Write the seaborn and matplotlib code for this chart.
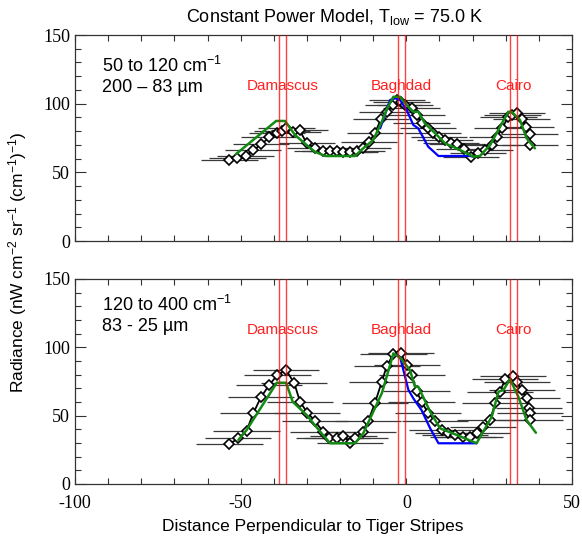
import matplotlib
matplotlib.use('Agg')
import matplotlib.pyplot as plt
import seaborn as sns
from matplotlib.ticker import MultipleLocator

# stripe positions (two red lines per stripe) and labels
stripe_names = ['Damascus', 'Baghdad', 'Cairo']
stripe_label_x = [-37.35, -1.5, 32.3]
stripe_lines = [-38.4, -36.3, -2.6, -0.4, 31.3, 33.3]

# 50 to 120 cm-1 band: measured radiance
x_top = [-53.4, -51.0, -48.5, -46.2, -43.8, -41.3, -39.0, -37.5, -36.2, -34.2, -32.2,
         -30.0, -27.6, -25.3, -23.0, -21.0, -19.0, -17.0, -15.0, -13.0, -11.3, -9.5,
         -7.6, -5.8, -3.9, -2.8, -1.5, -0.5, 1.6, 3.1, 4.6, 6.6, 8.1, 9.8, 11.7, 13.4,
         15.3, 17.5, 19.6, 21.7, 23.7, 25.8, 27.4, 28.9, 30.8, 32.0, 33.3, 34.8, 36.2,
         37.2, 37.3]
y_top = [59, 60.5, 62, 66, 70.5, 75.5, 78.5, 80, 82, 79.5, 80.5,
         71, 67.5, 65.5, 65.5, 65.5, 65, 65, 65.5, 67.5, 72, 78.5,
         89, 94, 99, 103, 101, 99, 96.5, 91.5, 86, 82, 78.5, 75.5, 73.5, 71,
         70.5, 67, 61, 64, 66.5, 70, 76, 82, 90.5, 92, 93.5, 89, 83,
         78, 70]
xerr_top = 8.5

# model curves, top band
green_x_top = [-51.4, -39.3, -36.6, -33.6, -30.1, -27.6, -24.5, -15.5, -13.0, -10.0, -7.4,
               -5.9, -3.9, -1.9, 0.1, 2.1, 3.6, 5.6, 8.7, 11.7, 16.2, 20.2, 22.2, 25.3,
               28.3, 30.8, 31.8, 34.3, 36.3, 38.8]
green_y_top = [63.3, 87.4, 87.4, 77.2, 69.9, 65.0, 61.9, 61.9, 67.5, 73.5, 86.9,
               96, 105, 105, 99, 94.1, 94.1, 85.7, 78.4, 71.1, 66.3, 61.4, 61.9, 69.9,
               83.2, 94.1, 94.1, 88.1, 74.8, 67.5]
blue_x_top = [-7.9, -4.9, -3.4, -1.9, 0.1, 2.1, 3.6, 6.6, 9.7, 19.2, 20.2]
blue_y_top = [82, 102.7, 103.9, 102.7, 95.4, 84.5, 82, 68.7, 61.9, 61.9, 61.4]

# 120 to 400 cm-1 band: measured radiance
x_bot = [-53.4, -50.7, -48.2, -46.2, -43.9, -41.4, -38.9, -36.3, -33.8, -32.1, -29.9,
         -27.6, -25.2, -23.2, -21.0, -19.0, -17.0, -15.5, -13.2, -11.5, -9.5, -7.4,
         -5.9, -3.9, -1.7, 0.1, 1.6, 3.1, 4.6, 6.6, 8.7, 10.7, 12.7, 14.7, 17.2, 19.2,
         21.2, 23.2, 25.3, 26.8, 28.3, 29.8, 32.1, 33.3, 34.8, 36.3, 37.1, 37.3, 37.3]
y_bot = [29.3, 33.4, 39.0, 51.7, 63.4, 72.4, 79.8, 83.4, 73.7, 60.2, 52.2,
         46.3, 38.3, 33.4, 33.4, 35.4, 30.2, 33.4, 38.3, 46.3, 59.0, 74.9,
         86.3, 95.1, 95.6, 87.1, 80, 68, 60, 52, 46, 39.5, 37.1, 35.9, 34.6, 34.6,
         37.1, 41.5, 46.8, 59.0, 67.5, 76.6, 79.0, 74.9, 68.8, 62.7, 55.4, 51.7, 46.8]
xerr_bot = 10

# model curves, bottom band
green_x_bot = [-50.7, -48.2, -39.1, -36.3, -34.3, -30.1, -26.0, -23.0, -15.5, -13.0, -7.4,
               -4.9, -3.9, -1.7, 1.1, 2.6, 3.6, 7.2, 10.2, 15.2, 21.2, 25.8, 27.8, 29.3,
               31.3, 33.8, 36.3, 39.1]
green_y_bot = [32.2, 39.5, 74.1, 74.1, 60.2, 50.5, 38.3, 29.8, 29.8, 37.1, 66.4,
               87.1, 95.6, 92, 83.4, 71.2, 71.2, 52.9, 40.7, 35.9, 29.8, 49.3, 67.5, 68.8,
               76.6, 63.9, 46.8, 37.5]
blue_x_bot = [-3.9, -1.9, 0.6, 2.1, 4.6, 7.2, 9.7, 19.2, 21.2]
blue_y_bot = [95, 93, 69, 62.7, 54, 40.7, 29.8, 29.8, 29.8]

sns.set_style('ticks')
plt.rcParams['font.family'] = ['Liberation Sans', 'DejaVu Sans']
plt.rcParams['mathtext.fontset'] = 'custom'
plt.rcParams['mathtext.rm'] = 'Liberation Sans'
plt.rcParams['mathtext.it'] = 'Liberation Sans:italic'
plt.rcParams['axes.unicode_minus'] = False
plt.rcParams['text.color'] = 'black'
plt.rcParams['xtick.labelcolor'] = 'black'
plt.rcParams['ytick.labelcolor'] = 'black'

fig = plt.figure(figsize=(5.82, 5.40), dpi=100)
ax1 = fig.add_axes([75 / 582, 1 - 241 / 540, 497 / 582, 206 / 540])
ax2 = fig.add_axes([75 / 582, 1 - 484 / 540, 497 / 582, 205 / 540])


def draw_panel(ax, x, y, xerr, gx, gy, bx, by, line1, line2, ytext):
    ax.errorbar(x, y, xerr=xerr, fmt='none', ecolor='#3a3a3a', elinewidth=0.9, capsize=0, zorder=1)
    sns.lineplot(x=x, y=y, sort=False, estimator=None, color='black', lw=1.3, marker='D',
                 markersize=4.8, markerfacecolor='white', markeredgecolor='black',
                 markeredgewidth=1.2, ax=ax, zorder=3)
    sns.lineplot(x=bx, y=by, sort=False, estimator=None, color='#0000ff', lw=1.6, ax=ax, zorder=4)
    sns.lineplot(x=gx, y=gy, sort=False, estimator=None, color='#138a13', lw=1.8, ax=ax, zorder=5)
    for xv in stripe_lines:
        ax.axvline(xv, color='#ff0000', lw=1.0, alpha=0.75, zorder=6)
    for name, lx in zip(stripe_names, stripe_label_x):
        ax.text(lx, 113, name, color='#ff2020', fontsize=11, ha='center', va='center', zorder=7)
    ax.text(-92, ytext, line1, fontsize=13, ha='left', va='center')
    ax.text(-92, ytext - 15.5, line2, fontsize=13, ha='left', va='center')
    ax.set_xlim(-100, 50)
    ax.set_ylim(0, 150)
    ax.xaxis.set_major_locator(MultipleLocator(50))
    ax.xaxis.set_minor_locator(MultipleLocator(10))
    ax.yaxis.set_major_locator(MultipleLocator(50))
    ax.yaxis.set_minor_locator(MultipleLocator(10))
    ax.tick_params(which='both', direction='in', top=True, right=True, width=0.8, color='#333333',
                   labelsize=13, labelfontfamily='Liberation Serif')
    ax.tick_params(which='major', axis='y', length=8)
    ax.tick_params(which='minor', axis='y', length=4)
    ax.tick_params(which='both', axis='x', length=4.5, pad=8)
    for s in ax.spines.values():
        s.set_color('#333333')
        s.set_linewidth(0.9)
    ax.set_xlabel('')
    ax.set_ylabel('')


draw_panel(ax1, x_top, y_top, xerr_top, green_x_top, green_y_top, blue_x_top, blue_y_top,
           '50 to 120 cm$^{-1}$', '200 \u2013 83 \u00b5m', 127.5)
draw_panel(ax2, x_bot, y_bot, xerr_bot, green_x_bot, green_y_bot, blue_x_bot, blue_y_bot,
           '120 to 400 cm$^{-1}$', '83 - 25 \u00b5m', 131)
ax1.tick_params(axis='x', labelbottom=False)

fig.text(335 / 582, 1 - 17 / 540, 'Constant Power Model, T$_{\\mathrm{low}}$ = 75.0 K',
         fontsize=13, ha='center', va='center')
fig.text(313 / 582, 1 - 527 / 540, 'Distance Perpendicular to Tiger Stripes',
         fontsize=12.5, ha='center', va='center')
fig.text(18 / 582, 1 - 262 / 540,
         'Radiance (nW cm$^{-2}$ sr$^{-1}$ (cm$^{-1}$)$^{-1}$)',
         fontsize=12.5, ha='center', va='center', rotation=90)

fig.savefig('out.png', dpi=100)
